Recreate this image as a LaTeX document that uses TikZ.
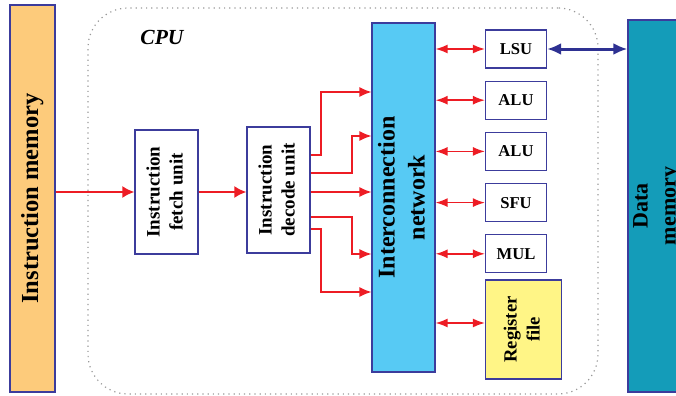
\documentclass[tikz,border=0pt]{standalone}
\usepackage{fontspec}
\setmainfont{Liberation Serif}
\usetikzlibrary{positioning, arrows.meta}
\definecolor{edgeblue}{HTML}{3C3C9C}
\definecolor{sigred}{HTML}{ED1C24}
\definecolor{busblue}{HTML}{2E3192}
\definecolor{imemfill}{HTML}{FDCB7B}
\definecolor{netfill}{HTML}{57CAF4}
\definecolor{regfill}{HTML}{FFF586}
\definecolor{dmemfill}{HTML}{149CB9}
\newcommand{\vlabel}[1]{\rotatebox{90}{\begin{tabular}{@{}c@{}}#1\end{tabular}}}

\begin{document}
\begin{tikzpicture}[x=0.5pt, y=-0.5pt,
  box/.style={draw=edgeblue, line width=0.6pt, fill=white, inner sep=0pt,
              font=\bfseries\fontsize{9.5}{11.5}\selectfont},
  unit/.style={box, minimum width=30.5pt, minimum height=19pt,
               font=\bfseries\fontsize{8.3}{10}\selectfont},
  arr/.style={-{Latex[length=6pt, width=5pt]}, sigred, line width=0.6pt},
  mainarr/.style={-{Latex[length=6pt, width=6pt]}, sigred, line width=1pt},
  darr/.style={{Latex[length=6pt, width=4.5pt]}-{Latex[length=6pt, width=4.5pt]}, sigred, line width=0.75pt},
  busarr/.style={{Latex[length=7pt, width=6pt]}-{Latex[length=7pt, width=6pt]}, busblue, line width=1.5pt},
  node distance=6pt]
  \useasboundingbox (0,0) rectangle (676,396);
  % memories on both sides
  \node[box, fill=imemfill, minimum width=22.5pt, minimum height=193.5pt,
        font=\bfseries\fontsize{12.25}{14}\selectfont] (imem) at (32.5,198.5) {\vlabel{Instruction memory}};
  \node[box, fill=dmemfill, minimum width=24pt, minimum height=186pt,
        font=\bfseries\fontsize{11}{14}\selectfont] (dmem) at (656,206) {\vlabel{Data\\memory}};
  % cpu outline
  \node[draw=gray!80, dotted, line width=0.6pt, rounded corners=20pt,
        minimum width=255pt, minimum height=193pt] (cpu) at (343,201) {};
  \node[font=\bfseries\itshape\fontsize{10.75}{12}\selectfont] (cpulbl) at (162,37) {CPU};
  % front end
  \node[box, minimum width=31.5pt, minimum height=62pt] (fetch) at (166.5,192) {\vlabel{Instruction\\fetch unit}};
  \node[box, minimum width=31.5pt, minimum height=63pt] (decode) at (278.5,190) {\vlabel{Instruction\\decode unit}};
  \node[box, fill=netfill, minimum width=31.5pt, minimum height=174.5pt,
        font=\bfseries\fontsize{12}{15}\selectfont] (net) at (403.5,197.5) {\vlabel{Interconnection\\network}};
  % execution units
  \node[unit] (lsu) at (516,49) {LSU};
  \node[unit, below=of lsu] (alu1) {ALU};
  \node[unit, below=of alu1] (alu2) {ALU};
  \node[unit, below=of alu2] (sfu) {SFU};
  \node[unit, below=of sfu] (mul) {MUL};
  \node[box, fill=regfill, minimum width=38pt, minimum height=49.5pt,
        below=3pt of mul.south west, anchor=north west,
        font=\bfseries\fontsize{9.3}{11.5}\selectfont] (reg) {\vlabel{Register\\file}};
  % connections
  \draw[mainarr] (fetch.west -| imem.east) -- (fetch.west);
  \draw[mainarr] (fetch.east) -- (fetch.east -| decode.west);
  \draw[arr] (decode.east |- 0,192) -- (net.west |- 0,192);
  \foreach \ya/\xm/\yb in {155/321/92, 173/352/136, 217/352/254, 229/321/292}
    \draw[arr] (decode.east |- 0,\ya) -| (\xm,\yb) -- (net.west |- 0,\yb);
  \foreach \u in {lsu,alu1,alu2,sfu,mul}
    \draw[darr] (net.east |- \u) -- (\u.west);
  \draw[darr] (net.east |- 0,323) -- (reg.west |- 0,323);
  \draw[busarr] (lsu.east) -- (lsu.east -| dmem.west);
\end{tikzpicture}
\end{document}
